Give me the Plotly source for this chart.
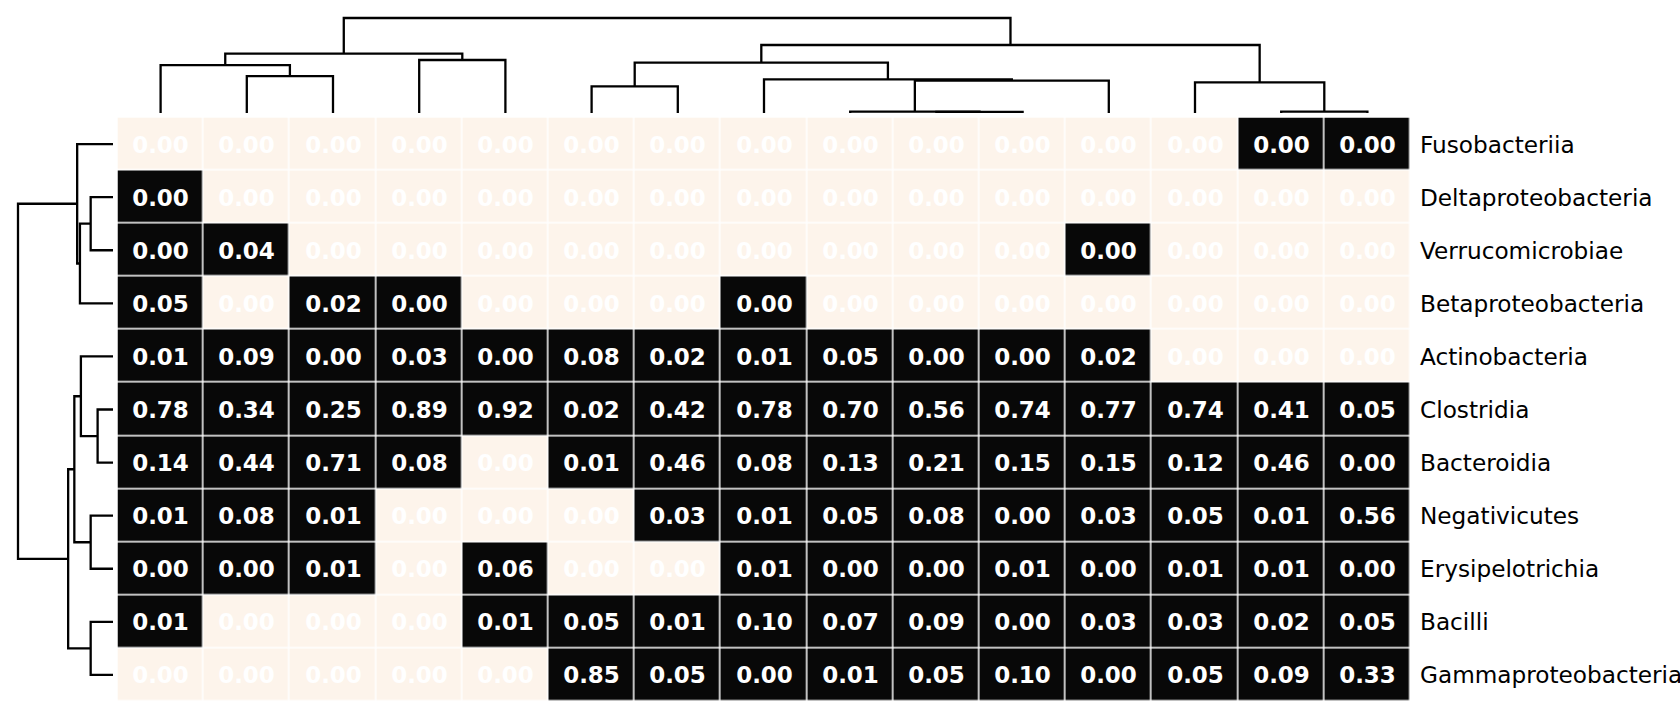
import plotly.graph_objects as go

W, H = 1680, 720

row_labels = ["Fusobacteriia", "Deltaproteobacteria", "Verrucomicrobiae", "Betaproteobacteria",
              "Actinobacteria", "Clostridia", "Bacteroidia", "Negativicutes",
              "Erysipelotrichia", "Bacilli", "Gammaproteobacteria"]

# relative abundance per sample (columns in clustered order)
# P = present but rounds to 0.00
P = 0.002
fusobacteriia = [0, 0, 0, 0, 0, 0, 0, 0, 0, 0, 0, 0, 0, P, P]
deltaproteobacteria = [P, 0, 0, 0, 0, 0, 0, 0, 0, 0, 0, 0, 0, 0, 0]
verrucomicrobiae = [P, 0.04, 0, 0, 0, 0, 0, 0, 0, 0, 0, P, 0, 0, 0]
betaproteobacteria = [0.05, 0, 0.02, P, 0, 0, 0, P, 0, 0, 0, 0, 0, 0, 0]
actinobacteria = [0.01, 0.09, P, 0.03, P, 0.08, 0.02, 0.01, 0.05, P, P, 0.02, 0, 0, 0]
clostridia = [0.78, 0.34, 0.25, 0.89, 0.92, 0.02, 0.42, 0.78, 0.70, 0.56, 0.74, 0.77, 0.74, 0.41, 0.05]
bacteroidia = [0.14, 0.44, 0.71, 0.08, 0, 0.01, 0.46, 0.08, 0.13, 0.21, 0.15, 0.15, 0.12, 0.46, P]
negativicutes = [0.01, 0.08, 0.01, 0, 0, 0, 0.03, 0.01, 0.05, 0.08, P, 0.03, 0.05, 0.01, 0.56]
erysipelotrichia = [P, P, 0.01, 0, 0.06, 0, 0, 0.01, P, P, 0.01, P, 0.01, 0.01, P]
bacilli = [0.01, 0, 0, 0, 0.01, 0.05, 0.01, 0.10, 0.07, 0.09, P, 0.03, 0.03, 0.02, 0.05]
gammaproteobacteria = [0, 0, 0, 0, 0, 0.85, 0.05, P, 0.01, 0.05, 0.10, P, 0.05, 0.09, 0.33]

values = [fusobacteriia, deltaproteobacteria, verrucomicrobiae, betaproteobacteria,
          actinobacteria, clostridia, bacteroidia, negativicutes,
          erysipelotrichia, bacilli, gammaproteobacteria]

# linkage (scipy style: leaves first, new nodes numbered after them)
col_left = [9, 8, 13, 5, 12, 16, 7, 1, 0, 18, 3, 23, 24, 26]
col_right = [10, 15, 14, 6, 17, 11, 20, 2, 22, 21, 4, 25, 19, 27]
col_height = [0.012, 0.015, 0.014, 0.281, 0.323, 0.34, 0.355, 0.389, 0.505, 0.53, 0.558, 0.625, 0.716, 1.0]

row_left = [5, 1, 7, 9, 4, 12, 0, 15, 18, 17]
row_right = [6, 2, 8, 10, 11, 3, 16, 13, 14, 19]
row_height = [0.162, 0.235, 0.235, 0.235, 0.338, 0.348, 0.377, 0.407, 0.472, 1.0]

CREAM = "#fdf4eb"
BLACK = "#080808"
FONT = "DejaVu Sans"


def dendro_lines(left, right, height, n):
    pos = {i: float(i) for i in range(n)}
    hgt = {i: 0.0 for i in range(n)}
    ps, hs = [], []
    for k, (a, b, h) in enumerate(zip(left, right, height)):
        ps += [pos[a], pos[a], pos[b], pos[b], None]
        hs += [hgt[a], h, h, hgt[b], None]
        pos[n + k] = (pos[a] + pos[b]) / 2
        hgt[n + k] = h
    return ps, hs


n_rows, n_cols = len(values), len(values[0])
presence = [[1 if v > 0 else 0 for v in row] for row in values]
text = [[f"{v:.2f}" for v in row] for row in values]

fig = go.Figure()
fig.add_trace(go.Heatmap(
    z=presence, x=list(range(n_cols)), y=list(range(n_rows)),
    text=text, texttemplate="<b>%{text}</b>",
    textfont=dict(family=FONT, size=23, color="white"),
    colorscale=[[0, CREAM], [0.5, CREAM], [0.5, BLACK], [1, BLACK]],
    zmin=0, zmax=1, showscale=False, xgap=1.5, ygap=1.5, hoverinfo="skip",
))

cx, cy = dendro_lines(col_left, col_right, col_height, n_cols)
fig.add_trace(go.Scatter(x=cx, y=cy, mode="lines", xaxis="x2", yaxis="y2",
                         line=dict(color="black", width=2.3), hoverinfo="skip"))

ry, rx = dendro_lines(row_left, row_right, row_height, n_rows)
fig.add_trace(go.Scatter(x=rx, y=ry, mode="lines", xaxis="x3", yaxis="y3",
                         line=dict(color="black", width=2.3), hoverinfo="skip"))

# pixel geometry
hm_left, hm_right, hm_top, hm_bottom = 117.5, 1410.5, 117.5, 701.5
leaf_px, root_px = 113, 18
span = leaf_px - root_px
d_lo, d_hi = 116, 10
h_lo, h_hi = (leaf_px - d_lo) / span, (leaf_px - d_hi) / span

hm_xdom = [hm_left / W, hm_right / W]
hm_ydom = [1 - hm_bottom / H, 1 - hm_top / H]
hidden = dict(visible=False, showgrid=False, zeroline=False)

fig.update_layout(
    width=W, height=H,
    margin=dict(l=0, r=0, t=0, b=0),
    paper_bgcolor="white", plot_bgcolor="white",
    showlegend=False,
    xaxis=dict(domain=hm_xdom, range=[-0.5, n_cols - 0.5], **hidden),
    yaxis=dict(domain=hm_ydom, range=[n_rows - 0.5, -0.5], **hidden),
    xaxis2=dict(domain=hm_xdom, range=[-0.5, n_cols - 0.5], anchor="y2", **hidden),
    yaxis2=dict(domain=[1 - d_lo / H, 1 - d_hi / H], range=[h_lo, h_hi], anchor="x2", **hidden),
    xaxis3=dict(domain=[d_hi / W, d_lo / W], range=[h_hi, h_lo], anchor="y3", **hidden),
    yaxis3=dict(domain=hm_ydom, range=[n_rows - 0.5, -0.5], anchor="x3", **hidden),
)

for i, label in enumerate(row_labels):
    fig.add_annotation(x=1418 / W, xref="paper", y=i, yref="y", text=label,
                       showarrow=False, xanchor="left", yanchor="middle",
                       font=dict(family=FONT, size=23.2, color="black"))

fig.write_html("out.html", config={"displayModeBar": False},
               post_script="document.body.style.margin='0';")
